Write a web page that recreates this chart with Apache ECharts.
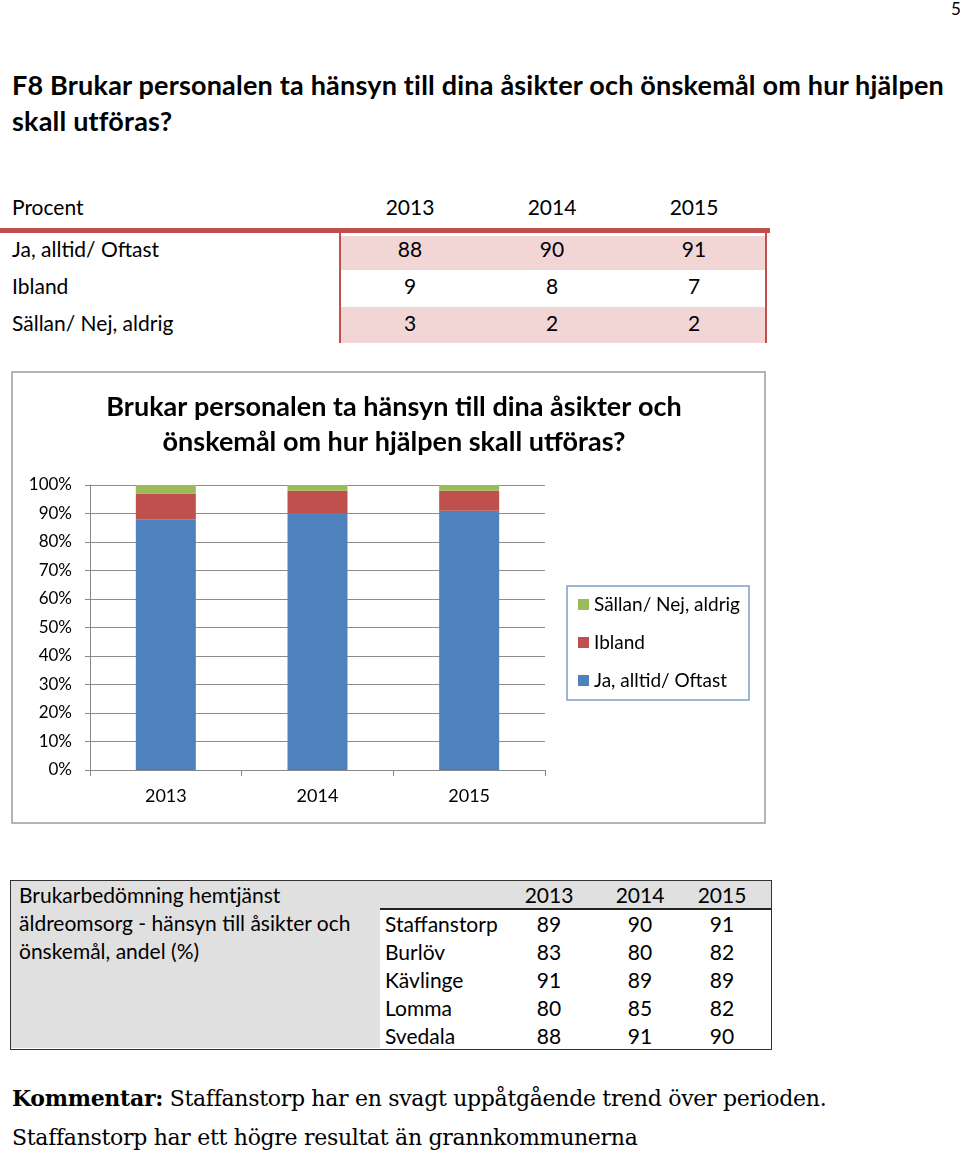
<!DOCTYPE html>
<html>
<head>
<meta charset="utf-8">
<script src="https://cdn.jsdelivr.net/npm/echarts@6/dist/echarts.min.js"></script>
<style>
  body { margin: 0; width: 960px; height: 1152px; position: relative; background: #fff; font-family: Lato, 'Open Sans', sans-serif; color: #000; overflow: hidden; }
  .abs { position: absolute; white-space: nowrap; }
  .c { transform: translateX(-50%); }
  .t { font-size: 21px; line-height: 28px; }
</style>
</head>
<body>
<div class="abs" style="left:951px;top:-2px;font-size:17px;">5</div>
<div class="abs" style="left:12px;top:67px;font-size:27px;font-weight:bold;line-height:36px;letter-spacing:0.2px;">F8 Brukar personalen ta hänsyn till dina åsikter och önskemål om hur hjälpen<br>skall utföras?</div>

<!-- table 1 -->
<div class="abs" style="left:0;top:228px;width:770px;height:5px;background:#c0504d;"></div>
<div class="abs" style="left:340px;top:236px;width:425px;height:34px;background:#f2d6d6;"></div>
<div class="abs" style="left:340px;top:307px;width:425px;height:36px;background:#f2d6d6;"></div>
<div class="abs" style="left:339px;top:233px;width:2px;height:110px;background:#c0504d;"></div>
<div class="abs" style="left:765px;top:233px;width:2px;height:110px;background:#c0504d;"></div>
<div id="t1"></div>

<!-- chart -->
<div class="abs" style="left:11px;top:371px;width:751px;height:449px;border:2px solid #b4b4b4;">
  <div id="chart" style="width:751px;height:449px;"></div>
</div>

<!-- table 2 -->
<div class="abs" style="left:10px;top:880px;width:760px;height:168px;border:1.5px solid #333;background:#fff;"></div>
<div class="abs" style="left:11px;top:881px;width:369px;height:167px;background:#e0e0e0;"></div>
<div class="abs" style="left:380px;top:881px;width:391px;height:28px;background:#e0e0e0;"></div>
<div class="abs" style="left:380px;top:908px;width:391px;height:2px;background:#222;"></div>
<div id="t2"></div>

<div class="abs" style="left:12px;top:1079px;font-family:'DejaVu Serif', serif;font-size:22px;line-height:39px;letter-spacing:-0.3px;"><b>Kommentar:</b> Staffanstorp har en svagt uppåtgående trend över perioden.<br>Staffanstorp har ett högre resultat än grannkommunerna</div>

<script>
const years = ['2013', '2014', '2015'];
const jaOftast = [88, 90, 91];
const ibland = [9, 8, 7];
const sallan = [3, 2, 2];
const rowLabels = ['Ja, alltid/ Oftast', 'Ibland', 'Sällan/ Nej, aldrig'];

const kommuner = ['Staffanstorp', 'Burlöv', 'Kävlinge', 'Lomma', 'Svedala'];
const kommunValues = [
  [89, 90, 91],
  [83, 80, 82],
  [91, 89, 89],
  [80, 85, 82],
  [88, 91, 90]
];

// table 1
let h = '';
const colX = [410, 552, 694];
const rowY = [207, 249, 286, 323];
h += `<div class="abs t" style="left:12px;top:${rowY[0]-14}px">Procent</div>`;
years.forEach((y, i) => { h += `<div class="abs t c" style="left:${colX[i]}px;top:${rowY[0]-14}px">${y}</div>`; });
[jaOftast, ibland, sallan].forEach((arr, r) => {
  h += `<div class="abs t" style="left:12px;top:${rowY[r+1]-14}px">${rowLabels[r]}</div>`;
  arr.forEach((v, i) => { h += `<div class="abs t c" style="left:${colX[i]}px;top:${rowY[r+1]-14}px">${v}</div>`; });
});
document.getElementById('t1').innerHTML = h;

// table 2
h = '';
const col2 = [549, 640, 722];
h += `<div class="abs t" style="left:19px;top:881px;">Brukarbedömning hemtjänst<br>äldreomsorg - hänsyn till åsikter och<br>önskemål, andel (%)</div>`;
years.forEach((y, i) => { h += `<div class="abs t c" style="left:${col2[i]}px;top:881px">${y}</div>`; });
kommuner.forEach((k, r) => {
  const top = 910 + r * 28;
  h += `<div class="abs t" style="left:385px;top:${top}px">${k}</div>`;
  kommunValues[r].forEach((v, i) => { h += `<div class="abs t c" style="left:${col2[i]}px;top:${top}px">${v}</div>`; });
});
document.getElementById('t2').innerHTML = h;

const chart = echarts.init(document.getElementById('chart'));
const font = 'Lato, sans-serif';
chart.setOption({
  animation: false,
  title: {
    text: 'Brukar personalen ta hänsyn till dina åsikter och\nönskemål om hur hjälpen skall utföras?',
    left: 376,
    top: 12,
    textAlign: 'center',
    textStyle: { fontFamily: font, fontSize: 27, fontWeight: 'bold', lineHeight: 35, color: '#000' }
  },
  legend: {
    orient: 'vertical',
    left: 554,
    top: 213,
    padding: [9, 9, 10, 11],
    itemGap: 19,
    itemWidth: 11,
    itemHeight: 11,
    icon: 'rect',
    borderColor: '#7f9fc8',
    borderWidth: 1.5,
    data: ['Sällan/ Nej, aldrig', 'Ibland', 'Ja, alltid/ Oftast'],
    textStyle: { fontFamily: font, fontSize: 19, color: '#000', padding: [0, 0, 0, 0] }
  },
  grid: { left: 77, top: 112, width: 455, height: 285 },
  xAxis: {
    type: 'category',
    data: years,
    axisLine: { lineStyle: { color: '#888', width: 1 } },
    axisTick: { show: true, length: 6, lineStyle: { color: '#888' } },
    axisLabel: { fontFamily: font, fontSize: 18, color: '#000', margin: 17 }
  },
  yAxis: {
    type: 'value',
    min: 0,
    max: 100,
    interval: 10,
    axisLine: { show: true, lineStyle: { color: '#888', width: 1 } },
    axisTick: { show: true, length: 5, lineStyle: { color: '#888' } },
    splitLine: { lineStyle: { color: '#8c8c8c', width: 1 } },
    axisLabel: { fontFamily: font, fontSize: 17, color: '#000', margin: 18, formatter: '{value}%' }
  },
  series: [
    { name: 'Ja, alltid/ Oftast', type: 'bar', stack: 'a', data: jaOftast, barWidth: 60, itemStyle: { color: '#4f81bd' } },
    { name: 'Ibland', type: 'bar', stack: 'a', data: ibland, barWidth: 60, itemStyle: { color: '#c0504d' } },
    { name: 'Sällan/ Nej, aldrig', type: 'bar', stack: 'a', data: sallan, barWidth: 60, itemStyle: { color: '#9bbb59' } }
  ]
});
</script>
</body>
</html>
